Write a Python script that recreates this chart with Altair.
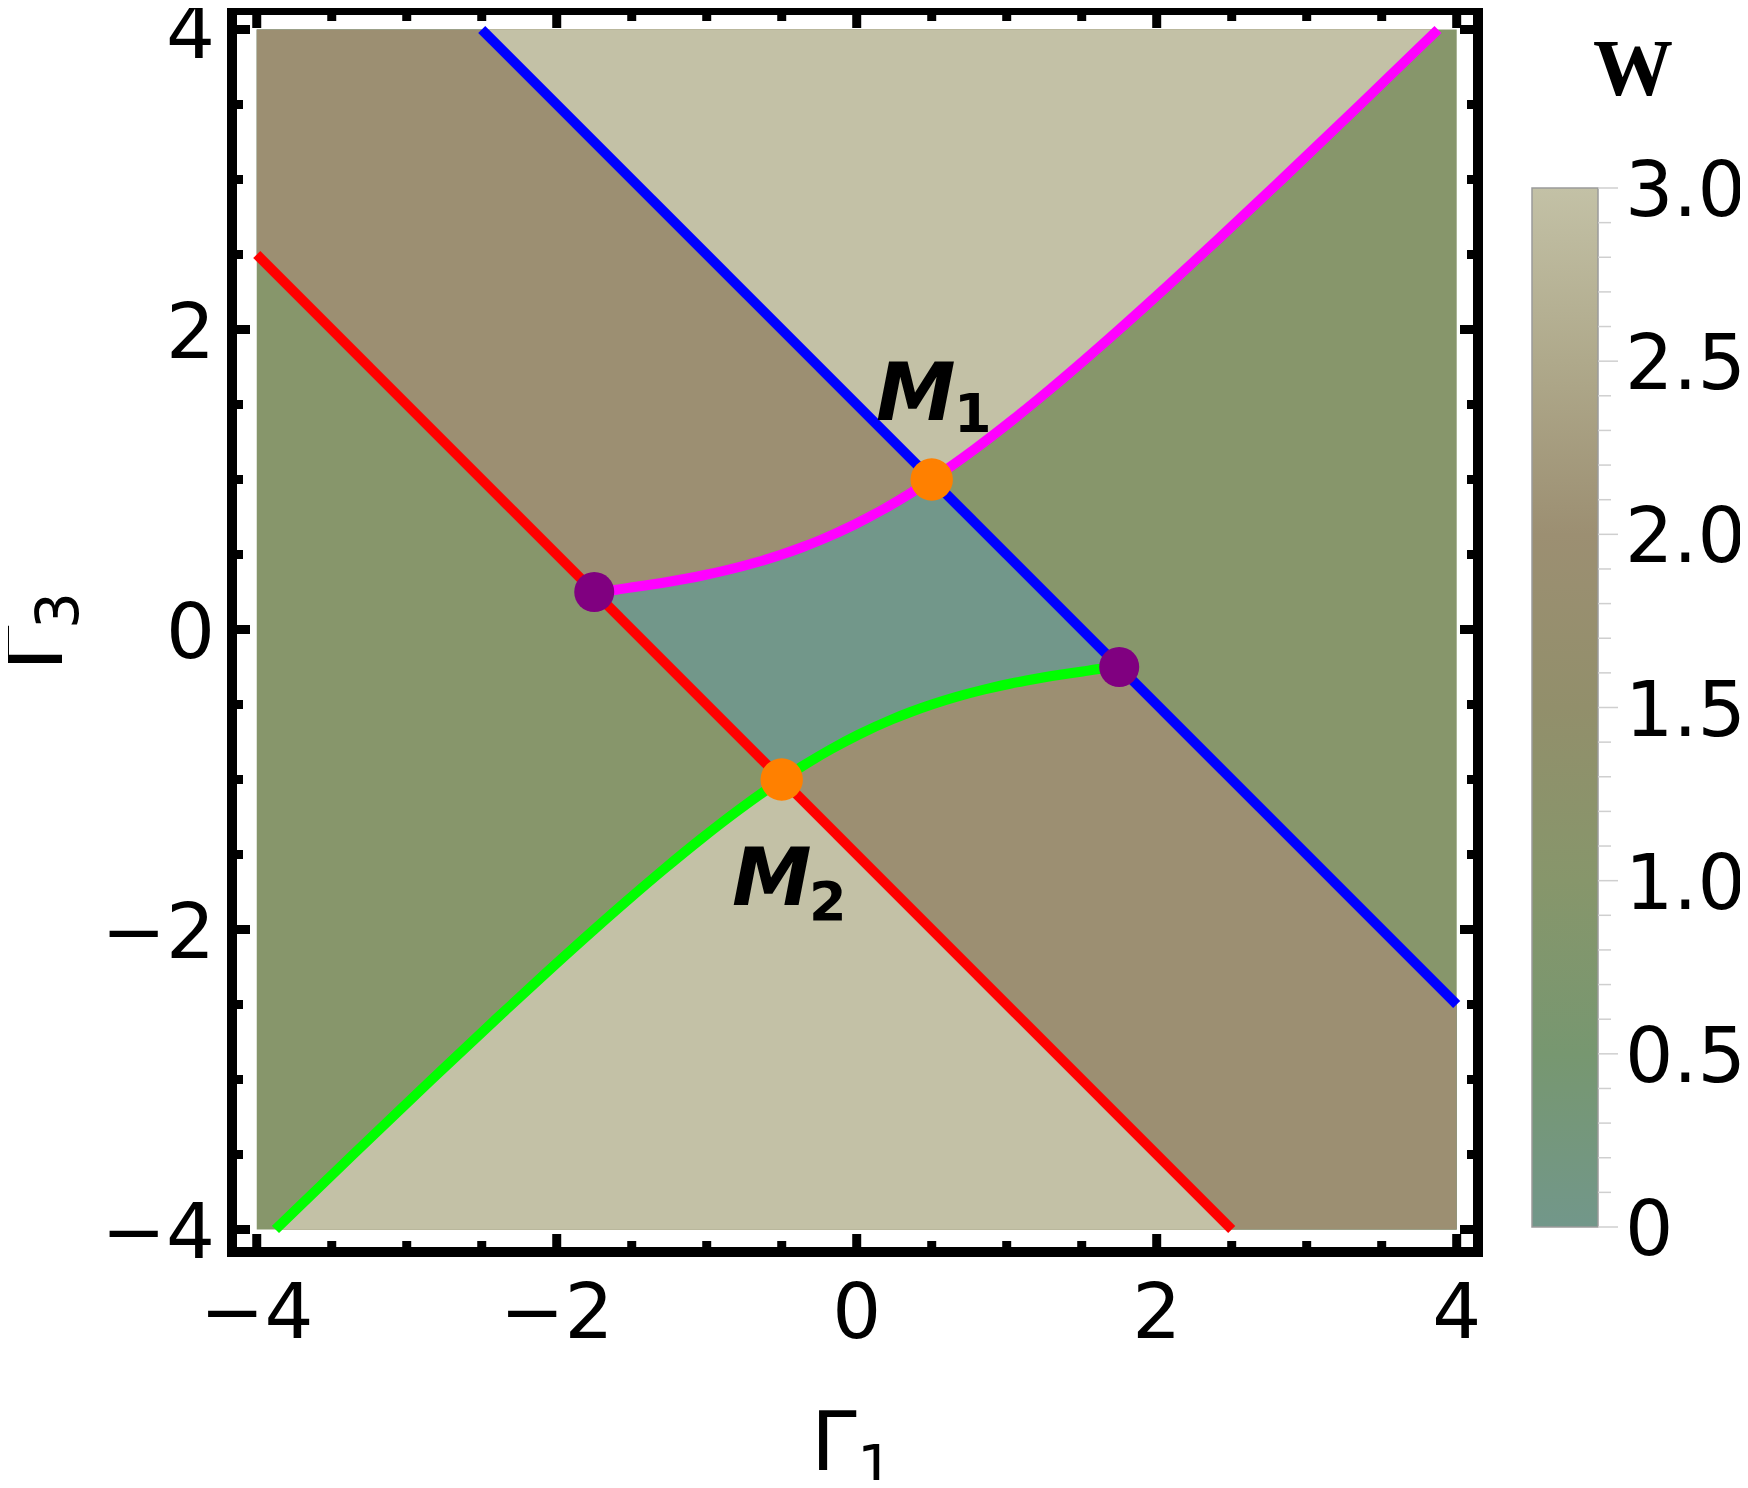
import altair as alt
import pandas as pd

# ---------------- data ----------------
# straight phase boundaries (endpoints, Γ1 / Γ3)
red_x = [-4.0, 2.5]
red_y = [2.5, -4.0]
blue_x = [-2.5, 4.0]
blue_y = [4.0, -2.5]

# magenta boundary (upper curve)
mag_x = [-1.75, -1.6, -1.5057, -1.3672, -1.2425, -1.1313, -1.0289, -0.85, -0.6611, -0.5,
         -0.3591, -0.2333, -0.0143, 0.175, 0.3444, 0.5, 0.7833, 1.0429, 1.2875,
         1.5222, 1.75, 2.0826, 2.4077, 2.8333, 3.3571, 3.875]
mag_y = [0.25, 0.265, 0.28, 0.30, 0.32, 0.34, 0.36, 0.40, 0.45, 0.50,
         0.55, 0.60, 0.70, 0.80, 0.90, 1.0, 1.2, 1.4, 1.6,
         1.8, 2.0, 2.3, 2.6, 3.0, 3.5, 4.0]

# green boundary (lower curve)
grn_x = [-3.875, -3.3571, -2.8333, -2.4077, -2.0826, -1.75, -1.5222, -1.2875, -1.0429,
         -0.7833, -0.5, -0.3444, -0.175, 0.0143, 0.2333, 0.3591, 0.5, 0.6611, 0.85,
         1.0289, 1.1313, 1.2425, 1.3672, 1.5057, 1.6, 1.75]
grn_y = [-4.0, -3.5, -3.0, -2.6, -2.3, -2.0, -1.8, -1.6, -1.4,
         -1.2, -1.0, -0.9, -0.8, -0.7, -0.6, -0.55, -0.5, -0.45, -0.4,
         -0.36, -0.34, -0.32, -0.30, -0.28, -0.265, -0.25]

# special points
orange_x = [0.5, -0.5]
orange_y = [1.0, -1.0]
purple_x = [-1.75, 1.75]
purple_y = [0.25, -0.25]

# band between the two straight lines (vertices)
band_x = [-4.0, -2.5, 2.5, 4.0]
band_lo = [2.5, 1.0, -4.0, -4.0]
band_hi = [4.0, 4.0, -1.0, -2.5]

# winding-number colour map
cb_vals = [0, 0.5, 1.0, 1.5, 2.0, 2.5, 3.0]
cb_colors = ["#72978a", "#779770", "#87966b", "#928f6b", "#9c8f72", "#afa98b", "#c3c1a6"]
cb_labels = ["0", "0.5", "1.0", "1.5", "2.0", "2.5", "3.0"]
cb_minor = [0.1, 0.2, 0.3, 0.4, 0.6, 0.7, 0.8, 0.9, 1.1, 1.2, 1.3, 1.4, 1.6, 1.7, 1.8, 1.9,
            2.1, 2.2, 2.3, 2.4, 2.6, 2.7, 2.8, 2.9]

tick_major = [-4, -2, 0, 2, 4]
tick_labels = ["\u22124", "\u22122", "0", "2", "4"]
tick_minor = [-3.5, -3, -2.5, -1.5, -1, -0.5, 0.5, 1, 1.5, 2.5, 3, 3.5]

ann_text = ["M", "M"]
ann_x = [0.129, -0.831]
ann_y = [1.397, -1.837]
sub_text = ["1", "2"]
sub_x = [0.648, -0.318]
sub_y = [1.317, -1.937]

# ---------------- layout ----------------
PW, PH = 1246, 1242
FONT = "DejaVu Sans"
xs = alt.Scale(domain=[-4.165, 4.142], nice=False, zero=False)
ys = alt.Scale(domain=[-4.15, 4.13], nice=False, zero=False)
cs = alt.Scale(domain=cb_vals, range=cb_colors)
cbs = alt.Scale(domain=[0, 3], range=[1217, 178], nice=False, zero=False)

def colr():
    return alt.Color("W:Q", scale=cs, legend=None)

one = pd.DataFrame({"a": [0]})

bg = alt.Chart(pd.DataFrame({"x0": [-4.0], "x1": [4.0], "y0": [-4.0], "y1": [4.0], "W": [1]})).mark_rect().encode(
    x=alt.X("x0:Q", scale=xs, axis=None), x2="x1",
    y=alt.Y("y0:Q", scale=ys, axis=None), y2="y1", color=colr())

def area(xv, lo, hi, w):
    df = pd.DataFrame({"x": xv, "lo": lo, "hi": hi, "W": [w] * len(xv)})
    return alt.Chart(df).mark_area(interpolate="linear", opacity=1).encode(
        x=alt.X("x:Q", scale=xs, axis=None),
        y=alt.Y("lo:Q", scale=ys, axis=None), y2="hi", color=colr())

band = area(band_x, band_lo, band_hi, 0)
up2 = area([red_x[0]] + mag_x, [red_y[0]] + mag_y, [4.0] * (len(mag_x) + 1), 2)
top_sel = [i for i in range(len(mag_x)) if mag_x[i] >= 0.5]
top3 = area([blue_x[0]] + [mag_x[i] for i in top_sel], [blue_y[0]] + [mag_y[i] for i in top_sel],
            [4.0] * (len(top_sel) + 1), 3)
lo2 = area(grn_x + [blue_x[1]], [-4.0] * (len(grn_x) + 1), grn_y + [blue_y[1]], 2)
bot_sel = [i for i in range(len(grn_x)) if grn_x[i] <= -0.5]
bot3 = area([grn_x[i] for i in bot_sel] + [red_x[1]], [-4.0] * (len(bot_sel) + 1),
            [grn_y[i] for i in bot_sel] + [red_y[1]], 3)

def line(xv, yv, col, interp="linear"):
    df = pd.DataFrame({"x": xv, "y": yv, "i": list(range(len(xv)))})
    return alt.Chart(df).mark_line(color=col, strokeWidth=10, strokeCap="butt", interpolate=interp).encode(
        x=alt.X("x:Q", scale=xs, axis=None), y=alt.Y("y:Q", scale=ys, axis=None), order="i:Q")

l_red = line(red_x, red_y, "#ff0000")
l_blue = line(blue_x, blue_y, "#0000ff")
l_mag = line(mag_x, mag_y, "#ff00ff", "monotone")
l_grn = line(grn_x, grn_y, "#00ff00", "monotone")

def dots(xv, yv, col, size):
    return alt.Chart(pd.DataFrame({"x": xv, "y": yv})).mark_circle(color=col, size=size, opacity=1).encode(
        x=alt.X("x:Q", scale=xs, axis=None), y=alt.Y("y:Q", scale=ys, axis=None))

d_orange = dots(orange_x, orange_y, "#ff8000", 1800)
d_purple = dots(purple_x, purple_y, "#800080", 1600)

ann = alt.Chart(pd.DataFrame({"x": ann_x, "y": ann_y, "t": ann_text})).mark_text(
    font=FONT, fontSize=80, fontWeight="bold", fontStyle="italic", align="left", baseline="alphabetic",
    color="black").encode(x=alt.X("x:Q", scale=xs, axis=None), y=alt.Y("y:Q", scale=ys, axis=None), text="t:N")
sub = alt.Chart(pd.DataFrame({"x": sub_x, "y": sub_y, "t": sub_text})).mark_text(
    font=FONT, fontSize=54, fontWeight="bold", align="left", baseline="alphabetic",
    color="black").encode(x=alt.X("x:Q", scale=xs, axis=None), y=alt.Y("y:Q", scale=ys, axis=None), text="t:N")

def ticks(vals, side, length):
    df = pd.DataFrame({"v": vals})
    base = alt.Chart(df).mark_rule(color="black", strokeWidth=9)
    if side == "bottom":
        return base.encode(x=alt.X("v:Q", scale=xs, axis=None), y=alt.value(PH), y2=alt.value(PH - length))
    if side == "top":
        return base.encode(x=alt.X("v:Q", scale=xs, axis=None), y=alt.value(0), y2=alt.value(length))
    if side == "left":
        return base.encode(y=alt.Y("v:Q", scale=ys, axis=None), x=alt.value(0), x2=alt.value(length))
    return base.encode(y=alt.Y("v:Q", scale=ys, axis=None), x=alt.value(PW), x2=alt.value(PW - length))

tick_layers = []
for s in ["bottom", "top", "left", "right"]:
    tick_layers.append(ticks(tick_major, s, 18))
    tick_layers.append(ticks(tick_minor, s, 11))

lab_df = pd.DataFrame({"v": tick_major, "t": tick_labels})
x_labels = alt.Chart(lab_df).mark_text(font=FONT, fontSize=77, align="center", baseline="alphabetic",
                                       color="black").encode(
    x=alt.X("v:Q", scale=xs, axis=None), y=alt.value(1328), text="t:N")
y_labels = alt.Chart(lab_df).mark_text(font=FONT, fontSize=77, align="right", baseline="alphabetic",
                                       color="black", dy=28).encode(
    y=alt.Y("v:Q", scale=ys, axis=None), x=alt.value(-17), text="t:N")

def txt(t, x, y, size, angle=0, weight="normal", font=FONT):
    return alt.Chart(one).mark_text(text=t, font=font, fontSize=size, fontWeight=weight, angle=angle,
                                    align="left", baseline="alphabetic", color="black").encode(
        x=alt.value(x), y=alt.value(y))

xt1 = txt("Γ", 579, 1460, 82)
xt2 = txt("1", 625, 1477, 58)
yt1 = txt("Γ", -170, 661, 82, angle=270)
yt2 = txt("3", -154, 619, 58, angle=270)

plot = alt.layer(bg, band, up2, top3, lo2, bot3, l_red, l_blue, l_mag, l_grn,
                 d_purple, d_orange, ann, sub, *tick_layers, x_labels, y_labels, xt1, xt2, yt1, yt2)

# ---------------- colour bar ----------------
grad = alt.LinearGradient(gradient="linear",
                          stops=[alt.GradientStop(color=c, offset=v / 3.0) for v, c in zip(cb_vals, cb_colors)],
                          x1=0, x2=0, y1=1, y2=0)
cb_rect = alt.Chart(pd.DataFrame({"lo": [0.0], "hi": [3.0]})).mark_rect(
    fill=grad, stroke="#9a9a9a", strokeWidth=1.5).encode(
    y=alt.Y("lo:Q", scale=cbs, axis=None), y2="hi", x=alt.value(1300), x2=alt.value(1366))
cb_t1 = alt.Chart(pd.DataFrame({"v": cb_vals})).mark_rule(color="#cfcfcf", strokeWidth=1.5).encode(
    y=alt.Y("v:Q", scale=cbs, axis=None), x=alt.value(1366), x2=alt.value(1386))
cb_t2 = alt.Chart(pd.DataFrame({"v": cb_minor})).mark_rule(color="#cfcfcf", strokeWidth=1.5).encode(
    y=alt.Y("v:Q", scale=cbs, axis=None), x=alt.value(1366), x2=alt.value(1379))
cb_lab = alt.Chart(pd.DataFrame({"v": cb_vals, "t": cb_labels})).mark_text(
    font=FONT, fontSize=76, align="left", baseline="alphabetic", color="black", dy=28).encode(
    y=alt.Y("v:Q", scale=cbs, axis=None), x=alt.value(1393), text="t:N")
w_title = alt.Chart(one).mark_text(text="W", font="Liberation Serif", fontSize=80, fontWeight="bold",
                                   align="center", baseline="alphabetic", color="black").encode(
    x=alt.value(1401), y=alt.value(85))
cbar = alt.layer(cb_rect, cb_t1, cb_t2, cb_lab, w_title)

chart = alt.layer(plot, cbar).resolve_scale(y="independent").properties(
    width=PW, height=PH,
    autosize=alt.AutoSizeParams(type="none"),
    padding={"left": 224, "top": 2, "right": 262, "bottom": 228},
).configure_view(stroke="black", strokeWidth=10).configure_axis(grid=False)

chart.save("out.html", embed_options={"renderer": "svg", "actions": False})
